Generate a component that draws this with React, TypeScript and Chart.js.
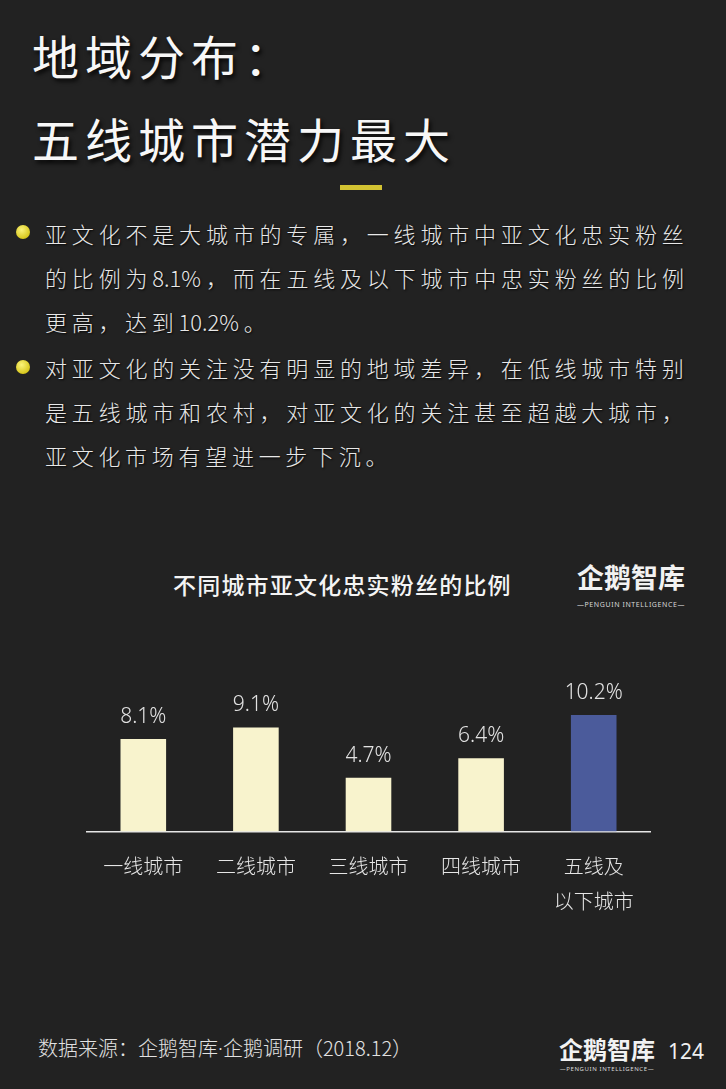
import React, { useEffect, useRef } from "react";
import { Chart, registerables } from "chart.js";

Chart.register(...registerables);

// ---------- data ----------
const categories: (string | string[])[] = [
  "一线城市",
  "二线城市",
  "三线城市",
  "四线城市",
  ["五线及", "以下城市"],
];
const shares: number[] = [8.1, 9.1, 4.7, 6.4, 10.2];
const valueLabels: string[] = ["8.1%", "9.1%", "4.7%", "6.4%", "10.2%"];
const barColors: string[] = ["#f8f3cd", "#f8f3cd", "#f8f3cd", "#f8f3cd", "#4b5b9b"];

const titleLines: string[] = ["地域分布：", "五线城市潜力最大"];
const bullet1: string[] = [
  "亚文化不是大城市的专属，一线城市中亚文化忠实粉丝",
  "的比例为8.1%，而在五线及以下城市中忠实粉丝的比例",
  "更高，达到10.2%。",
];
const bullet2: string[] = [
  "对亚文化的关注没有明显的地域差异，在低线城市特别",
  "是五线城市和农村，对亚文化的关注甚至超越大城市，",
  "亚文化市场有望进一步下沉。",
];
const chartTitle = "不同城市亚文化忠实粉丝的比例";
const sourceParts: string[] = ["数据来源：企鹅智库", "·", "企鹅调研（2018.12）"];
const brandName = "企鹅智库";
const brandSub = "—PENGUIN INTELLIGENCE—";
const pageNumber = "124";

const CJK = '"Noto Sans CJK SC", "Noto Sans", sans-serif';
const BODY_SHADOW = "1px 1px 2px rgba(0,0,0,0.9)";

const valueLabelPlugin = {
  id: "valueLabels",
  afterDatasetsDraw(chart: any) {
    const { ctx } = chart;
    const meta = chart.getDatasetMeta(0);
    ctx.save();
    ctx.font = '300 21px "Noto Sans", "Noto Sans CJK SC", sans-serif';
    ctx.fillStyle = "#e2e2e2";
    ctx.textAlign = "center";
    ctx.textBaseline = "middle";
    meta.data.forEach((el: any, i: number) => {
      ctx.fillText(valueLabels[i], el.x, el.y - 22);
    });
    ctx.restore();
  },
};

function Txt(props: {
  text: React.ReactNode;
  x: number;
  cy: number;
  fs: number;
  color?: string;
  weight?: number;
  ls?: number;
  shadow?: string;
  family?: string;
}) {
  const { text, x, cy, fs, color = "#e8e8e8", weight = 400, ls = 0, shadow, family = CJK } = props;
  return (
    <div
      style={{
        position: "absolute",
        left: x,
        top: cy - fs * 0.55,
        fontSize: fs,
        lineHeight: `${fs}px`,
        fontFamily: family,
        fontWeight: weight,
        color,
        letterSpacing: ls,
        whiteSpace: "nowrap",
        textShadow: shadow,
      }}
    >
      {text}
    </div>
  );
}

function tokenize(text: string): string[] {
  return text.match(/[A-Za-z0-9.%]+|./gu) || [];
}

function JustLine(props: { text: string; x: number; cy: number; fs: number; width: number }) {
  const { text, x, cy, fs, width } = props;
  return (
    <div
      style={{
        position: "absolute",
        left: x,
        top: cy - fs * 0.55,
        width,
        height: fs,
        display: "flex",
        justifyContent: "space-between",
        fontSize: fs,
        lineHeight: `${fs}px`,
        fontFamily: CJK,
        fontWeight: 300,
        color: "#e8e8e8",
        whiteSpace: "nowrap",
        textShadow: BODY_SHADOW,
      }}
    >
      {tokenize(text).map((t, i) => (
        <span key={i}>{t}</span>
      ))}
    </div>
  );
}

function LeftLine(props: { text: string; x: number; cy: number; fs: number; gap: number }) {
  const { text, x, cy, fs, gap } = props;
  return (
    <div
      style={{
        position: "absolute",
        left: x,
        top: cy - fs * 0.55,
        height: fs,
        display: "flex",
        fontSize: fs,
        lineHeight: `${fs}px`,
        fontFamily: CJK,
        fontWeight: 300,
        color: "#e8e8e8",
        whiteSpace: "nowrap",
        textShadow: BODY_SHADOW,
      }}
    >
      {tokenize(text).map((t, i) => (
        <span key={i} style={{ marginRight: gap }}>
          {t}
        </span>
      ))}
    </div>
  );
}

function Bullet(props: { cy: number }) {
  return (
    <div
      style={{
        position: "absolute",
        left: 16,
        top: props.cy - 7,
        width: 14,
        height: 14,
        borderRadius: "50%",
        background: "radial-gradient(circle at 40% 35%, #fbf37a, #d8c81e 70%, #b9a814)",
      }}
    />
  );
}

function Brand(props: { x: number; cy: number; w: number; fs: number; subFs: number; subCy: number }) {
  const { x, cy, w, fs, subFs, subCy } = props;
  return (
    <>
      <div
        style={{
          position: "absolute",
          left: x,
          top: cy - fs * 0.55,
          width: w,
          textAlign: "center",
          fontSize: fs,
          lineHeight: `${fs}px`,
          fontFamily: CJK,
          fontWeight: 700,
          color: "#f2f2f2",
          whiteSpace: "nowrap",
        }}
      >
        {brandName}
      </div>
      <div
        style={{
          position: "absolute",
          left: x,
          top: subCy - subFs * 0.6,
          width: w,
          textAlign: "center",
          fontSize: subFs,
          lineHeight: `${subFs}px`,
          fontFamily: '"Noto Sans", sans-serif',
          color: "#d8d8d8",
          letterSpacing: 0.6,
          whiteSpace: "nowrap",
        }}
      >
        {brandSub}
      </div>
    </>
  );
}

export default function App() {
  const canvasRef = useRef<HTMLCanvasElement | null>(null);

  useEffect(() => {
    document.body.style.margin = "0";
    const canvas = canvasRef.current;
    if (!canvas) return;
    const chart = new Chart(canvas, {
      type: "bar",
      data: {
        labels: categories,
        datasets: [
          {
            data: shares,
            backgroundColor: barColors,
            borderWidth: 0,
            categoryPercentage: 1,
            barPercentage: 0.405,
          },
        ],
      },
      options: {
        responsive: false,
        animation: false,
        devicePixelRatio: 1,
        layout: { padding: { left: 87, right: 76, top: 20, bottom: 3.5 } },
        plugins: { legend: { display: false }, tooltip: { enabled: false } },
        scales: {
          x: {
            grid: { display: false, drawTicks: false },
            border: { display: true, color: "#e6e6e6", width: 1.5 },
            ticks: {
              color: "#e6e6e6",
              padding: 17.5,
              maxRotation: 0,
              autoSkip: false,
              font: { family: CJK, size: 20, weight: "300", lineHeight: 1.75 },
            },
          },
          y: { display: false, min: 0, max: 15 },
        },
      },
      plugins: [valueLabelPlugin],
    } as any);
    return () => chart.destroy();
  }, []);

  const titleShadow = "2px 3px 4px rgba(0,0,0,0.85)";

  return (
    <div
      style={{
        position: "fixed",
        left: 0,
        top: 0,
        width: 726,
        height: 1089,
        background: "#222222",
        overflow: "hidden",
      }}
    >
      <Txt text={titleLines[0]} x={32} cy={57} fs={47} ls={6} color="#f7f7f7" shadow={titleShadow} />
      <Txt text={titleLines[1]} x={32} cy={140} fs={47} ls={6} color="#f7f7f7" shadow={titleShadow} />
      <div style={{ position: "absolute", left: 340, top: 185, width: 42, height: 5, background: "#d2c232" }} />

      <Bullet cy={232} />
      <JustLine text={bullet1[0]} x={45} cy={234} fs={22} width={639} />
      <JustLine text={bullet1[1]} x={45} cy={278} fs={22} width={639} />
      <LeftLine text={bullet1[2]} x={45} cy={322} fs={22} gap={4.7} />

      <Bullet cy={367} />
      <JustLine text={bullet2[0]} x={45} cy={368} fs={22} width={639} />
      <JustLine text={bullet2[1]} x={45} cy={412} fs={22} width={639} />
      <LeftLine text={bullet2[2]} x={45} cy={456} fs={22} gap={4.7} />

      <Txt text={chartTitle} x={173} cy={586} fs={23} ls={1.2} weight={500} color="#f4f4f4" />
      <Brand x={572} cy={578} w={118} fs={27} subFs={7} subCy={605} />

      <div style={{ position: "absolute", left: 0, top: 640, width: 726, height: 300 }}>
        <canvas ref={canvasRef} width={726} height={300} style={{ display: "block", width: 726, height: 300 }} />
      </div>

      <Txt
        text={
          <>
            {sourceParts[0]}
            <span style={{ fontFamily: '"Noto Sans", sans-serif' }}>{sourceParts[1]}</span>
            {sourceParts[2]}
          </>
        }
        x={38}
        cy={1049}
        fs={20}
        weight={300}
        color="#e2e2e2"
      />
      <Brand x={555} cy={1050} w={104} fs={24} subFs={6} subCy={1070} />
      <Txt text={pageNumber} x={668} cy={1053} fs={21} color="#f0f0f0" family='"Noto Sans", sans-serif' />
    </div>
  );
}
